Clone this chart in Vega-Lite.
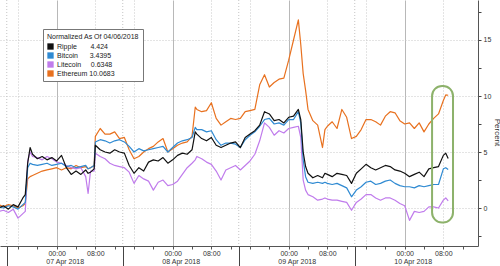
{
"$schema":"https://vega.github.io/schema/vega-lite/v6.json",
"width":478,"height":246,
"autosize":{"type":"none"},
"padding":{"left":0,"top":0,"right":22,"bottom":20},
"background":"white",
"config":{"view":{"stroke":null},"font":"Liberation Sans"},
"layer":[
{
"data":{"values":[{"a":"2018-04-06T13:40Z"},{"a":"2018-04-07T13:40Z"},{"a":"2018-04-08T13:40Z"},{"a":"2018-04-09T13:40Z"}]},
"mark":{"type":"rule","color":"#c4c4c4","strokeWidth":1,"strokeDash":[1,2]},
"encoding":{"x":{"field":"a","type":"temporal","scale":{"type":"utc","domain":[1523016972000,1523373012000]},
"axis":{"orient":"bottom","values":[1523022000000,1523108400000,1523194800000,1523281200000],"labels":false,"tickSize":20,"tickColor":"#444","domain":false,"grid":false,"title":null}}}
},
{
"data":{"values":[
{"t":"2018-04-06T12:00Z","s":"Ethereum","v":0.3},{"t":"2018-04-06T13:00Z","s":"Ethereum","v":0.1},{"t":"2018-04-06T14:00Z","s":"Ethereum","v":0.3},{"t":"2018-04-06T15:00Z","s":"Ethereum","v":0.2},{"t":"2018-04-06T16:00Z","s":"Ethereum","v":0.0},{"t":"2018-04-06T17:00Z","s":"Ethereum","v":0.2},{"t":"2018-04-06T17:30Z","s":"Ethereum","v":0.4},{"t":"2018-04-06T18:00Z","s":"Ethereum","v":2.6},{"t":"2018-04-06T18:30Z","s":"Ethereum","v":2.8},{"t":"2018-04-06T19:00Z","s":"Ethereum","v":2.9},{"t":"2018-04-06T20:00Z","s":"Ethereum","v":3.1},{"t":"2018-04-06T21:00Z","s":"Ethereum","v":3.3},{"t":"2018-04-06T22:00Z","s":"Ethereum","v":3.4},{"t":"2018-04-06T23:00Z","s":"Ethereum","v":3.5},
{"t":"2018-04-07T00:00Z","s":"Ethereum","v":3.6},{"t":"2018-04-07T01:00Z","s":"Ethereum","v":3.4},{"t":"2018-04-07T02:00Z","s":"Ethereum","v":3.6},{"t":"2018-04-07T03:00Z","s":"Ethereum","v":3.5},{"t":"2018-04-07T04:00Z","s":"Ethereum","v":3.8},{"t":"2018-04-07T05:00Z","s":"Ethereum","v":3.6},{"t":"2018-04-07T06:00Z","s":"Ethereum","v":3.7},{"t":"2018-04-07T06:30Z","s":"Ethereum","v":3.5},{"t":"2018-04-07T07:00Z","s":"Ethereum","v":3.6},{"t":"2018-04-07T07:45Z","s":"Ethereum","v":3.8},{"t":"2018-04-07T08:00Z","s":"Ethereum","v":6.4},{"t":"2018-04-07T09:00Z","s":"Ethereum","v":7.1},{"t":"2018-04-07T10:00Z","s":"Ethereum","v":6.6},{"t":"2018-04-07T11:00Z","s":"Ethereum","v":6.6},{"t":"2018-04-07T12:00Z","s":"Ethereum","v":6.8},{"t":"2018-04-07T13:00Z","s":"Ethereum","v":6.2},{"t":"2018-04-07T14:00Z","s":"Ethereum","v":6.3},{"t":"2018-04-07T15:00Z","s":"Ethereum","v":5.2},{"t":"2018-04-07T16:00Z","s":"Ethereum","v":4.4},{"t":"2018-04-07T17:00Z","s":"Ethereum","v":4.6},{"t":"2018-04-07T18:00Z","s":"Ethereum","v":5.0},{"t":"2018-04-07T19:00Z","s":"Ethereum","v":5.3},{"t":"2018-04-07T20:00Z","s":"Ethereum","v":5.5},{"t":"2018-04-07T21:00Z","s":"Ethereum","v":5.9},{"t":"2018-04-07T22:00Z","s":"Ethereum","v":6.2},{"t":"2018-04-07T23:00Z","s":"Ethereum","v":5.0},
{"t":"2018-04-08T00:00Z","s":"Ethereum","v":5.3},{"t":"2018-04-08T01:00Z","s":"Ethereum","v":5.6},{"t":"2018-04-08T02:00Z","s":"Ethereum","v":5.8},{"t":"2018-04-08T03:00Z","s":"Ethereum","v":5.9},{"t":"2018-04-08T04:00Z","s":"Ethereum","v":6.4},{"t":"2018-04-08T04:40Z","s":"Ethereum","v":9.0},{"t":"2018-04-08T05:00Z","s":"Ethereum","v":8.8},{"t":"2018-04-08T06:00Z","s":"Ethereum","v":8.6},{"t":"2018-04-08T07:00Z","s":"Ethereum","v":8.7},{"t":"2018-04-08T08:00Z","s":"Ethereum","v":9.4},{"t":"2018-04-08T09:00Z","s":"Ethereum","v":8.0},{"t":"2018-04-08T10:00Z","s":"Ethereum","v":7.4},{"t":"2018-04-08T11:00Z","s":"Ethereum","v":7.7},{"t":"2018-04-08T12:00Z","s":"Ethereum","v":8.0},{"t":"2018-04-08T13:00Z","s":"Ethereum","v":7.9},{"t":"2018-04-08T14:00Z","s":"Ethereum","v":8.0},{"t":"2018-04-08T15:00Z","s":"Ethereum","v":8.6},{"t":"2018-04-08T16:00Z","s":"Ethereum","v":8.7},{"t":"2018-04-08T17:00Z","s":"Ethereum","v":8.8},{"t":"2018-04-08T18:00Z","s":"Ethereum","v":11.0},{"t":"2018-04-08T19:00Z","s":"Ethereum","v":11.9},{"t":"2018-04-08T20:00Z","s":"Ethereum","v":10.8},{"t":"2018-04-08T21:00Z","s":"Ethereum","v":11.2},{"t":"2018-04-08T22:00Z","s":"Ethereum","v":11.5},{"t":"2018-04-08T23:00Z","s":"Ethereum","v":11.6},
{"t":"2018-04-09T00:00Z","s":"Ethereum","v":13.2},{"t":"2018-04-09T01:00Z","s":"Ethereum","v":15.0},{"t":"2018-04-09T02:00Z","s":"Ethereum","v":16.8},{"t":"2018-04-09T02:30Z","s":"Ethereum","v":14.6},{"t":"2018-04-09T03:00Z","s":"Ethereum","v":12.0},{"t":"2018-04-09T03:30Z","s":"Ethereum","v":10.5},{"t":"2018-04-09T04:00Z","s":"Ethereum","v":8.8},{"t":"2018-04-09T05:00Z","s":"Ethereum","v":7.8},{"t":"2018-04-09T06:00Z","s":"Ethereum","v":7.4},{"t":"2018-04-09T07:00Z","s":"Ethereum","v":5.4},{"t":"2018-04-09T07:30Z","s":"Ethereum","v":7.0},{"t":"2018-04-09T08:00Z","s":"Ethereum","v":7.3},{"t":"2018-04-09T09:00Z","s":"Ethereum","v":7.7},{"t":"2018-04-09T10:00Z","s":"Ethereum","v":7.1},{"t":"2018-04-09T11:00Z","s":"Ethereum","v":8.8},{"t":"2018-04-09T12:00Z","s":"Ethereum","v":8.1},{"t":"2018-04-09T13:00Z","s":"Ethereum","v":6.2},{"t":"2018-04-09T14:00Z","s":"Ethereum","v":6.4},{"t":"2018-04-09T15:00Z","s":"Ethereum","v":7.0},{"t":"2018-04-09T16:00Z","s":"Ethereum","v":7.9},{"t":"2018-04-09T17:00Z","s":"Ethereum","v":7.9},{"t":"2018-04-09T18:00Z","s":"Ethereum","v":7.7},{"t":"2018-04-09T19:00Z","s":"Ethereum","v":7.4},{"t":"2018-04-09T20:00Z","s":"Ethereum","v":8.2},{"t":"2018-04-09T21:00Z","s":"Ethereum","v":8.6},{"t":"2018-04-09T22:00Z","s":"Ethereum","v":8.5},{"t":"2018-04-09T23:00Z","s":"Ethereum","v":7.8},
{"t":"2018-04-10T00:00Z","s":"Ethereum","v":7.5},{"t":"2018-04-10T01:00Z","s":"Ethereum","v":7.6},{"t":"2018-04-10T02:00Z","s":"Ethereum","v":7.1},{"t":"2018-04-10T03:00Z","s":"Ethereum","v":7.6},{"t":"2018-04-10T04:00Z","s":"Ethereum","v":6.8},{"t":"2018-04-10T05:00Z","s":"Ethereum","v":7.5},{"t":"2018-04-10T06:00Z","s":"Ethereum","v":8.0},{"t":"2018-04-10T07:00Z","s":"Ethereum","v":8.4},{"t":"2018-04-10T08:00Z","s":"Ethereum","v":9.6},{"t":"2018-04-10T08:30Z","s":"Ethereum","v":10.1},{"t":"2018-04-10T09:00Z","s":"Ethereum","v":10.0683},

{"t":"2018-04-06T12:00Z","s":"Litecoin","v":-0.3},{"t":"2018-04-06T13:00Z","s":"Litecoin","v":-0.2},{"t":"2018-04-06T14:00Z","s":"Litecoin","v":-0.4},{"t":"2018-04-06T15:00Z","s":"Litecoin","v":-0.1},{"t":"2018-04-06T16:00Z","s":"Litecoin","v":-0.9},{"t":"2018-04-06T17:00Z","s":"Litecoin","v":-0.5},{"t":"2018-04-06T17:30Z","s":"Litecoin","v":-0.3},{"t":"2018-04-06T18:00Z","s":"Litecoin","v":4.2},{"t":"2018-04-06T18:30Z","s":"Litecoin","v":5.0},{"t":"2018-04-06T19:00Z","s":"Litecoin","v":4.6},{"t":"2018-04-06T20:00Z","s":"Litecoin","v":4.5},{"t":"2018-04-06T21:00Z","s":"Litecoin","v":4.3},{"t":"2018-04-06T22:00Z","s":"Litecoin","v":4.6},{"t":"2018-04-06T23:00Z","s":"Litecoin","v":4.4},
{"t":"2018-04-07T00:00Z","s":"Litecoin","v":4.1},{"t":"2018-04-07T01:00Z","s":"Litecoin","v":4.0},{"t":"2018-04-07T02:00Z","s":"Litecoin","v":3.8},{"t":"2018-04-07T03:00Z","s":"Litecoin","v":3.6},{"t":"2018-04-07T04:00Z","s":"Litecoin","v":3.5},{"t":"2018-04-07T05:00Z","s":"Litecoin","v":3.6},{"t":"2018-04-07T06:00Z","s":"Litecoin","v":2.8},{"t":"2018-04-07T06:30Z","s":"Litecoin","v":1.3},{"t":"2018-04-07T07:00Z","s":"Litecoin","v":3.3},{"t":"2018-04-07T07:45Z","s":"Litecoin","v":3.3},{"t":"2018-04-07T08:00Z","s":"Litecoin","v":4.9},{"t":"2018-04-07T09:00Z","s":"Litecoin","v":4.6},{"t":"2018-04-07T10:00Z","s":"Litecoin","v":4.4},{"t":"2018-04-07T11:00Z","s":"Litecoin","v":4.0},{"t":"2018-04-07T12:00Z","s":"Litecoin","v":3.8},{"t":"2018-04-07T13:00Z","s":"Litecoin","v":3.7},{"t":"2018-04-07T14:00Z","s":"Litecoin","v":3.6},{"t":"2018-04-07T15:00Z","s":"Litecoin","v":3.2},{"t":"2018-04-07T16:00Z","s":"Litecoin","v":2.2},{"t":"2018-04-07T17:00Z","s":"Litecoin","v":2.9},{"t":"2018-04-07T18:00Z","s":"Litecoin","v":2.6},{"t":"2018-04-07T19:00Z","s":"Litecoin","v":2.4},{"t":"2018-04-07T20:00Z","s":"Litecoin","v":1.6},{"t":"2018-04-07T21:00Z","s":"Litecoin","v":2.3},{"t":"2018-04-07T22:00Z","s":"Litecoin","v":2.5},{"t":"2018-04-07T23:00Z","s":"Litecoin","v":2.0},
{"t":"2018-04-08T00:00Z","s":"Litecoin","v":2.1},{"t":"2018-04-08T01:00Z","s":"Litecoin","v":2.4},{"t":"2018-04-08T02:00Z","s":"Litecoin","v":3.0},{"t":"2018-04-08T03:00Z","s":"Litecoin","v":3.6},{"t":"2018-04-08T04:00Z","s":"Litecoin","v":4.0},{"t":"2018-04-08T04:40Z","s":"Litecoin","v":4.3},{"t":"2018-04-08T05:00Z","s":"Litecoin","v":4.6},{"t":"2018-04-08T06:00Z","s":"Litecoin","v":4.4},{"t":"2018-04-08T07:00Z","s":"Litecoin","v":4.1},{"t":"2018-04-08T08:00Z","s":"Litecoin","v":3.9},{"t":"2018-04-08T09:00Z","s":"Litecoin","v":3.3},{"t":"2018-04-08T10:00Z","s":"Litecoin","v":2.5},{"t":"2018-04-08T11:00Z","s":"Litecoin","v":3.4},{"t":"2018-04-08T12:00Z","s":"Litecoin","v":3.6},{"t":"2018-04-08T13:00Z","s":"Litecoin","v":3.8},{"t":"2018-04-08T14:00Z","s":"Litecoin","v":3.4},{"t":"2018-04-08T15:00Z","s":"Litecoin","v":3.8},{"t":"2018-04-08T16:00Z","s":"Litecoin","v":4.2},{"t":"2018-04-08T17:00Z","s":"Litecoin","v":4.8},{"t":"2018-04-08T18:00Z","s":"Litecoin","v":6.0},{"t":"2018-04-08T19:00Z","s":"Litecoin","v":7.6},{"t":"2018-04-08T20:00Z","s":"Litecoin","v":7.2},{"t":"2018-04-08T21:00Z","s":"Litecoin","v":6.5},{"t":"2018-04-08T22:00Z","s":"Litecoin","v":6.9},{"t":"2018-04-08T23:00Z","s":"Litecoin","v":6.7},
{"t":"2018-04-09T00:00Z","s":"Litecoin","v":7.1},{"t":"2018-04-09T01:00Z","s":"Litecoin","v":7.2},{"t":"2018-04-09T02:00Z","s":"Litecoin","v":7.3},{"t":"2018-04-09T02:30Z","s":"Litecoin","v":6.3},{"t":"2018-04-09T03:00Z","s":"Litecoin","v":2.5},{"t":"2018-04-09T03:30Z","s":"Litecoin","v":1.6},{"t":"2018-04-09T04:00Z","s":"Litecoin","v":1.2},{"t":"2018-04-09T05:00Z","s":"Litecoin","v":1.0},{"t":"2018-04-09T06:00Z","s":"Litecoin","v":0.7},{"t":"2018-04-09T07:00Z","s":"Litecoin","v":0.8},{"t":"2018-04-09T07:30Z","s":"Litecoin","v":0.9},{"t":"2018-04-09T08:00Z","s":"Litecoin","v":0.8},{"t":"2018-04-09T09:00Z","s":"Litecoin","v":0.7},{"t":"2018-04-09T10:00Z","s":"Litecoin","v":0.7},{"t":"2018-04-09T11:00Z","s":"Litecoin","v":0.6},{"t":"2018-04-09T12:00Z","s":"Litecoin","v":0.5},{"t":"2018-04-09T13:00Z","s":"Litecoin","v":-0.2},{"t":"2018-04-09T14:00Z","s":"Litecoin","v":0.5},{"t":"2018-04-09T15:00Z","s":"Litecoin","v":0.8},{"t":"2018-04-09T16:00Z","s":"Litecoin","v":1.2},{"t":"2018-04-09T17:00Z","s":"Litecoin","v":1.2},{"t":"2018-04-09T18:00Z","s":"Litecoin","v":0.9},{"t":"2018-04-09T19:00Z","s":"Litecoin","v":0.7},{"t":"2018-04-09T20:00Z","s":"Litecoin","v":0.9},{"t":"2018-04-09T21:00Z","s":"Litecoin","v":0.9},{"t":"2018-04-09T22:00Z","s":"Litecoin","v":0.7},{"t":"2018-04-09T23:00Z","s":"Litecoin","v":0.4},
{"t":"2018-04-10T00:00Z","s":"Litecoin","v":0.2},{"t":"2018-04-10T01:00Z","s":"Litecoin","v":-1.1},{"t":"2018-04-10T02:00Z","s":"Litecoin","v":-0.3},{"t":"2018-04-10T03:00Z","s":"Litecoin","v":-0.4},{"t":"2018-04-10T04:00Z","s":"Litecoin","v":-0.3},{"t":"2018-04-10T05:00Z","s":"Litecoin","v":0.1},{"t":"2018-04-10T06:00Z","s":"Litecoin","v":0.1},{"t":"2018-04-10T07:00Z","s":"Litecoin","v":0.0},{"t":"2018-04-10T08:00Z","s":"Litecoin","v":0.7},{"t":"2018-04-10T08:30Z","s":"Litecoin","v":0.9},{"t":"2018-04-10T09:00Z","s":"Litecoin","v":0.6348},

{"t":"2018-04-06T12:00Z","s":"Bitcoin","v":0.1},{"t":"2018-04-06T13:00Z","s":"Bitcoin","v":0.0},{"t":"2018-04-06T14:00Z","s":"Bitcoin","v":0.2},{"t":"2018-04-06T15:00Z","s":"Bitcoin","v":0.1},{"t":"2018-04-06T16:00Z","s":"Bitcoin","v":-0.1},{"t":"2018-04-06T17:00Z","s":"Bitcoin","v":0.3},{"t":"2018-04-06T17:30Z","s":"Bitcoin","v":0.5},{"t":"2018-04-06T18:00Z","s":"Bitcoin","v":3.6},{"t":"2018-04-06T18:30Z","s":"Bitcoin","v":4.0},{"t":"2018-04-06T19:00Z","s":"Bitcoin","v":3.9},{"t":"2018-04-06T20:00Z","s":"Bitcoin","v":3.8},{"t":"2018-04-06T21:00Z","s":"Bitcoin","v":3.9},{"t":"2018-04-06T22:00Z","s":"Bitcoin","v":4.0},{"t":"2018-04-06T23:00Z","s":"Bitcoin","v":3.8},
{"t":"2018-04-07T00:00Z","s":"Bitcoin","v":3.9},{"t":"2018-04-07T01:00Z","s":"Bitcoin","v":4.0},{"t":"2018-04-07T02:00Z","s":"Bitcoin","v":3.7},{"t":"2018-04-07T03:00Z","s":"Bitcoin","v":3.8},{"t":"2018-04-07T04:00Z","s":"Bitcoin","v":3.6},{"t":"2018-04-07T05:00Z","s":"Bitcoin","v":3.7},{"t":"2018-04-07T06:00Z","s":"Bitcoin","v":3.8},{"t":"2018-04-07T06:30Z","s":"Bitcoin","v":3.5},{"t":"2018-04-07T07:00Z","s":"Bitcoin","v":3.6},{"t":"2018-04-07T07:45Z","s":"Bitcoin","v":3.8},{"t":"2018-04-07T08:00Z","s":"Bitcoin","v":5.9},{"t":"2018-04-07T09:00Z","s":"Bitcoin","v":6.1},{"t":"2018-04-07T10:00Z","s":"Bitcoin","v":6.0},{"t":"2018-04-07T11:00Z","s":"Bitcoin","v":5.8},{"t":"2018-04-07T12:00Z","s":"Bitcoin","v":6.0},{"t":"2018-04-07T13:00Z","s":"Bitcoin","v":6.1},{"t":"2018-04-07T14:00Z","s":"Bitcoin","v":5.9},{"t":"2018-04-07T15:00Z","s":"Bitcoin","v":5.5},{"t":"2018-04-07T16:00Z","s":"Bitcoin","v":5.0},{"t":"2018-04-07T17:00Z","s":"Bitcoin","v":5.3},{"t":"2018-04-07T18:00Z","s":"Bitcoin","v":5.1},{"t":"2018-04-07T19:00Z","s":"Bitcoin","v":5.2},{"t":"2018-04-07T20:00Z","s":"Bitcoin","v":5.3},{"t":"2018-04-07T21:00Z","s":"Bitcoin","v":5.4},{"t":"2018-04-07T22:00Z","s":"Bitcoin","v":5.5},{"t":"2018-04-07T23:00Z","s":"Bitcoin","v":5.0},
{"t":"2018-04-08T00:00Z","s":"Bitcoin","v":5.4},{"t":"2018-04-08T01:00Z","s":"Bitcoin","v":5.8},{"t":"2018-04-08T02:00Z","s":"Bitcoin","v":6.0},{"t":"2018-04-08T03:00Z","s":"Bitcoin","v":6.1},{"t":"2018-04-08T04:00Z","s":"Bitcoin","v":6.3},{"t":"2018-04-08T04:40Z","s":"Bitcoin","v":7.2},{"t":"2018-04-08T05:00Z","s":"Bitcoin","v":7.0},{"t":"2018-04-08T06:00Z","s":"Bitcoin","v":7.0},{"t":"2018-04-08T07:00Z","s":"Bitcoin","v":6.8},{"t":"2018-04-08T08:00Z","s":"Bitcoin","v":6.9},{"t":"2018-04-08T09:00Z","s":"Bitcoin","v":6.1},{"t":"2018-04-08T10:00Z","s":"Bitcoin","v":5.6},{"t":"2018-04-08T11:00Z","s":"Bitcoin","v":5.8},{"t":"2018-04-08T12:00Z","s":"Bitcoin","v":5.8},{"t":"2018-04-08T13:00Z","s":"Bitcoin","v":5.7},{"t":"2018-04-08T14:00Z","s":"Bitcoin","v":5.4},{"t":"2018-04-08T15:00Z","s":"Bitcoin","v":6.1},{"t":"2018-04-08T16:00Z","s":"Bitcoin","v":6.5},{"t":"2018-04-08T17:00Z","s":"Bitcoin","v":6.8},{"t":"2018-04-08T18:00Z","s":"Bitcoin","v":7.3},{"t":"2018-04-08T19:00Z","s":"Bitcoin","v":7.9},{"t":"2018-04-08T20:00Z","s":"Bitcoin","v":8.0},{"t":"2018-04-08T21:00Z","s":"Bitcoin","v":7.5},{"t":"2018-04-08T22:00Z","s":"Bitcoin","v":7.6},{"t":"2018-04-08T23:00Z","s":"Bitcoin","v":7.4},
{"t":"2018-04-09T00:00Z","s":"Bitcoin","v":7.9},{"t":"2018-04-09T01:00Z","s":"Bitcoin","v":7.9},{"t":"2018-04-09T02:00Z","s":"Bitcoin","v":8.6},{"t":"2018-04-09T02:30Z","s":"Bitcoin","v":7.6},{"t":"2018-04-09T03:00Z","s":"Bitcoin","v":4.3},{"t":"2018-04-09T03:30Z","s":"Bitcoin","v":2.8},{"t":"2018-04-09T04:00Z","s":"Bitcoin","v":2.3},{"t":"2018-04-09T05:00Z","s":"Bitcoin","v":2.2},{"t":"2018-04-09T06:00Z","s":"Bitcoin","v":2.3},{"t":"2018-04-09T07:00Z","s":"Bitcoin","v":2.2},{"t":"2018-04-09T07:30Z","s":"Bitcoin","v":2.3},{"t":"2018-04-09T08:00Z","s":"Bitcoin","v":2.2},{"t":"2018-04-09T09:00Z","s":"Bitcoin","v":2.1},{"t":"2018-04-09T10:00Z","s":"Bitcoin","v":2.2},{"t":"2018-04-09T11:00Z","s":"Bitcoin","v":2.0},{"t":"2018-04-09T12:00Z","s":"Bitcoin","v":1.8},{"t":"2018-04-09T13:00Z","s":"Bitcoin","v":1.0},{"t":"2018-04-09T14:00Z","s":"Bitcoin","v":1.6},{"t":"2018-04-09T15:00Z","s":"Bitcoin","v":1.9},{"t":"2018-04-09T16:00Z","s":"Bitcoin","v":2.3},{"t":"2018-04-09T17:00Z","s":"Bitcoin","v":2.4},{"t":"2018-04-09T18:00Z","s":"Bitcoin","v":2.1},{"t":"2018-04-09T19:00Z","s":"Bitcoin","v":2.2},{"t":"2018-04-09T20:00Z","s":"Bitcoin","v":2.4},{"t":"2018-04-09T21:00Z","s":"Bitcoin","v":2.5},{"t":"2018-04-09T22:00Z","s":"Bitcoin","v":2.2},{"t":"2018-04-09T23:00Z","s":"Bitcoin","v":2.0},
{"t":"2018-04-10T00:00Z","s":"Bitcoin","v":1.9},{"t":"2018-04-10T01:00Z","s":"Bitcoin","v":1.9},{"t":"2018-04-10T02:00Z","s":"Bitcoin","v":1.8},{"t":"2018-04-10T03:00Z","s":"Bitcoin","v":2.0},{"t":"2018-04-10T04:00Z","s":"Bitcoin","v":1.9},{"t":"2018-04-10T05:00Z","s":"Bitcoin","v":2.0},{"t":"2018-04-10T06:00Z","s":"Bitcoin","v":2.1},{"t":"2018-04-10T07:00Z","s":"Bitcoin","v":2.1},{"t":"2018-04-10T08:00Z","s":"Bitcoin","v":3.5},{"t":"2018-04-10T08:30Z","s":"Bitcoin","v":3.6},{"t":"2018-04-10T09:00Z","s":"Bitcoin","v":3.4395},

{"t":"2018-04-06T12:00Z","s":"Ripple","v":0.0},{"t":"2018-04-06T13:00Z","s":"Ripple","v":0.2},{"t":"2018-04-06T14:00Z","s":"Ripple","v":-0.1},{"t":"2018-04-06T15:00Z","s":"Ripple","v":0.3},{"t":"2018-04-06T16:00Z","s":"Ripple","v":0.1},{"t":"2018-04-06T17:00Z","s":"Ripple","v":0.9},{"t":"2018-04-06T17:30Z","s":"Ripple","v":1.2},{"t":"2018-04-06T18:00Z","s":"Ripple","v":4.0},{"t":"2018-04-06T18:30Z","s":"Ripple","v":5.4},{"t":"2018-04-06T19:00Z","s":"Ripple","v":4.8},{"t":"2018-04-06T20:00Z","s":"Ripple","v":4.4},{"t":"2018-04-06T21:00Z","s":"Ripple","v":4.6},{"t":"2018-04-06T22:00Z","s":"Ripple","v":4.3},{"t":"2018-04-06T23:00Z","s":"Ripple","v":4.5},
{"t":"2018-04-07T00:00Z","s":"Ripple","v":4.2},{"t":"2018-04-07T01:00Z","s":"Ripple","v":4.7},{"t":"2018-04-07T02:00Z","s":"Ripple","v":3.6},{"t":"2018-04-07T03:00Z","s":"Ripple","v":3.0},{"t":"2018-04-07T04:00Z","s":"Ripple","v":3.3},{"t":"2018-04-07T05:00Z","s":"Ripple","v":3.0},{"t":"2018-04-07T06:00Z","s":"Ripple","v":3.4},{"t":"2018-04-07T06:30Z","s":"Ripple","v":3.1},{"t":"2018-04-07T07:00Z","s":"Ripple","v":3.2},{"t":"2018-04-07T07:45Z","s":"Ripple","v":3.5},{"t":"2018-04-07T08:00Z","s":"Ripple","v":5.6},{"t":"2018-04-07T09:00Z","s":"Ripple","v":5.2},{"t":"2018-04-07T10:00Z","s":"Ripple","v":5.0},{"t":"2018-04-07T11:00Z","s":"Ripple","v":4.9},{"t":"2018-04-07T12:00Z","s":"Ripple","v":5.2},{"t":"2018-04-07T13:00Z","s":"Ripple","v":5.0},{"t":"2018-04-07T14:00Z","s":"Ripple","v":4.9},{"t":"2018-04-07T15:00Z","s":"Ripple","v":3.8},{"t":"2018-04-07T16:00Z","s":"Ripple","v":3.1},{"t":"2018-04-07T17:00Z","s":"Ripple","v":3.6},{"t":"2018-04-07T18:00Z","s":"Ripple","v":3.3},{"t":"2018-04-07T19:00Z","s":"Ripple","v":4.1},{"t":"2018-04-07T20:00Z","s":"Ripple","v":4.3},{"t":"2018-04-07T21:00Z","s":"Ripple","v":4.2},{"t":"2018-04-07T22:00Z","s":"Ripple","v":4.5},{"t":"2018-04-07T23:00Z","s":"Ripple","v":4.0},
{"t":"2018-04-08T00:00Z","s":"Ripple","v":4.3},{"t":"2018-04-08T01:00Z","s":"Ripple","v":4.7},{"t":"2018-04-08T02:00Z","s":"Ripple","v":4.9},{"t":"2018-04-08T03:00Z","s":"Ripple","v":4.8},{"t":"2018-04-08T04:00Z","s":"Ripple","v":5.2},{"t":"2018-04-08T04:40Z","s":"Ripple","v":6.8},{"t":"2018-04-08T05:00Z","s":"Ripple","v":6.6},{"t":"2018-04-08T06:00Z","s":"Ripple","v":6.2},{"t":"2018-04-08T07:00Z","s":"Ripple","v":6.0},{"t":"2018-04-08T08:00Z","s":"Ripple","v":6.3},{"t":"2018-04-08T09:00Z","s":"Ripple","v":5.6},{"t":"2018-04-08T10:00Z","s":"Ripple","v":5.4},{"t":"2018-04-08T11:00Z","s":"Ripple","v":5.6},{"t":"2018-04-08T12:00Z","s":"Ripple","v":5.8},{"t":"2018-04-08T13:00Z","s":"Ripple","v":5.9},{"t":"2018-04-08T14:00Z","s":"Ripple","v":5.4},{"t":"2018-04-08T15:00Z","s":"Ripple","v":6.3},{"t":"2018-04-08T16:00Z","s":"Ripple","v":6.6},{"t":"2018-04-08T17:00Z","s":"Ripple","v":6.9},{"t":"2018-04-08T18:00Z","s":"Ripple","v":7.4},{"t":"2018-04-08T19:00Z","s":"Ripple","v":8.6},{"t":"2018-04-08T20:00Z","s":"Ripple","v":8.4},{"t":"2018-04-08T21:00Z","s":"Ripple","v":7.8},{"t":"2018-04-08T22:00Z","s":"Ripple","v":7.9},{"t":"2018-04-08T23:00Z","s":"Ripple","v":7.6},
{"t":"2018-04-09T00:00Z","s":"Ripple","v":8.1},{"t":"2018-04-09T01:00Z","s":"Ripple","v":8.2},{"t":"2018-04-09T02:00Z","s":"Ripple","v":8.8},{"t":"2018-04-09T02:30Z","s":"Ripple","v":7.9},{"t":"2018-04-09T03:00Z","s":"Ripple","v":5.0},{"t":"2018-04-09T03:30Z","s":"Ripple","v":3.7},{"t":"2018-04-09T04:00Z","s":"Ripple","v":3.1},{"t":"2018-04-09T05:00Z","s":"Ripple","v":2.7},{"t":"2018-04-09T06:00Z","s":"Ripple","v":2.9},{"t":"2018-04-09T07:00Z","s":"Ripple","v":2.7},{"t":"2018-04-09T07:30Z","s":"Ripple","v":3.1},{"t":"2018-04-09T08:00Z","s":"Ripple","v":3.0},{"t":"2018-04-09T09:00Z","s":"Ripple","v":2.8},{"t":"2018-04-09T10:00Z","s":"Ripple","v":3.1},{"t":"2018-04-09T11:00Z","s":"Ripple","v":3.0},{"t":"2018-04-09T12:00Z","s":"Ripple","v":2.9},{"t":"2018-04-09T13:00Z","s":"Ripple","v":2.2},{"t":"2018-04-09T14:00Z","s":"Ripple","v":3.1},{"t":"2018-04-09T15:00Z","s":"Ripple","v":3.5},{"t":"2018-04-09T16:00Z","s":"Ripple","v":3.9},{"t":"2018-04-09T17:00Z","s":"Ripple","v":3.6},{"t":"2018-04-09T18:00Z","s":"Ripple","v":3.4},{"t":"2018-04-09T19:00Z","s":"Ripple","v":3.6},{"t":"2018-04-09T20:00Z","s":"Ripple","v":3.8},{"t":"2018-04-09T21:00Z","s":"Ripple","v":3.7},{"t":"2018-04-09T22:00Z","s":"Ripple","v":3.4},{"t":"2018-04-09T23:00Z","s":"Ripple","v":3.3},
{"t":"2018-04-10T00:00Z","s":"Ripple","v":3.1},{"t":"2018-04-10T01:00Z","s":"Ripple","v":2.8},{"t":"2018-04-10T02:00Z","s":"Ripple","v":3.0},{"t":"2018-04-10T03:00Z","s":"Ripple","v":3.2},{"t":"2018-04-10T04:00Z","s":"Ripple","v":2.8},{"t":"2018-04-10T05:00Z","s":"Ripple","v":3.5},{"t":"2018-04-10T06:00Z","s":"Ripple","v":3.6},{"t":"2018-04-10T07:00Z","s":"Ripple","v":3.7},{"t":"2018-04-10T08:00Z","s":"Ripple","v":4.7},{"t":"2018-04-10T08:30Z","s":"Ripple","v":4.9},{"t":"2018-04-10T09:00Z","s":"Ripple","v":4.424}
]},
"mark":{"type":"line","strokeWidth":1.2,"strokeJoin":"round"},
"encoding":{
"x":{"field":"t","type":"temporal","scale":{"type":"utc","domain":[1523016972000,1523373012000]},
"axis":{"orient":"bottom","title":null,"values":[1523030400000,1523044800000,1523059200000,1523073600000,1523088000000,1523102400000,1523116800000,1523131200000,1523145600000,1523160000000,1523174400000,1523188800000,1523203200000,1523217600000,1523232000000,1523246400000,1523260800000,1523275200000,1523289600000,1523304000000,1523318400000,1523332800000,1523347200000,1523361600000],
"labelExpr":"(utchours(datum.value) == 0 || utchours(datum.value) == 8) ? utcFormat(datum.value, '%H:%M') : ''",
"labelFontSize":7,"labelColor":"#333","labelPadding":0,"labelFlush":false,"labelOverlap":false,
"tickSize":3,"tickColor":"#555","domainColor":"#555","grid":true,
"gridColor":{"condition":{"test":"utchours(datum.value) == 0","value":"#b8b8b8"},"value":"#c8c8c8"},
"gridDash":{"condition":{"test":"utchours(datum.value) == 0","value":[]},"value":[1,2]},
"gridOpacity":{"condition":{"test":"utchours(datum.value) % 8 == 0","value":1},"value":0}}},
"y":{"field":"v","type":"quantitative","scale":{"domain":[-3.39,18.57],"nice":false,"zero":false},
"axis":{"orient":"right","values":[-2.5,0,2.5,5,7.5,10,12.5,15,17.5],"labelExpr":"datum.value % 5 == 0 ? format(datum.value, 'd') : ''","tickSize":3,"tickColor":"#444","domainColor":"#555","labelFontSize":7,"labelColor":"#333","labelPadding":2,"grid":true,"gridColor":"#c8c8c8","gridDash":[1,2],"gridOpacity":{"condition":{"test":"datum.value % 5 == 0","value":1},"value":0},"title":"Percent","titleFontSize":8,"titleFontWeight":"normal","titleColor":"#333","titleAngle":90,"titleX":18,"titleY":132,"titleAlign":"center","titleBaseline":"middle"}},
"color":{"field":"s","type":"nominal","scale":{"domain":["Ripple","Bitcoin","Litecoin","Ethereum"],"range":["#111111","#2f8ad2","#c07cec","#e8711f"]},
"legend":{"orient":"none","legendX":43,"legendY":29,"title":"Normalized As Of 04/06/2018","titleFontSize":7,"titleFontWeight":"normal","titleColor":"#222","titlePadding":3,"labelFontSize":7,"labelColor":"#222","symbolType":"square","symbolSize":40,"symbolStrokeWidth":0,"padding":4,"strokeColor":"#777","fillColor":"white","rowPadding":1,"labelOffset":3,
"labelExpr":"datum.label == 'Ripple' ? 'Ripple\u00a0\u00a0\u00a0\u00a0\u00a0\u00a0\u00a04.424' : datum.label == 'Bitcoin' ? 'Bitcoin\u00a0\u00a0\u00a0\u00a0\u00a0\u00a03.4395' : datum.label == 'Litecoin' ? 'Litecoin\u00a0\u00a0\u00a0\u00a0\u00a00.6348' : 'Ethereum\u00a010.0683'",
"encode":{"symbols":{"update":{"fill":{"scale":"color","field":"value"},"stroke":{"value":"transparent"},"opacity":{"value":1}}}}}}
}
},
{
"data":{"values":[{"x1":"2018-04-10T05:40Z","x2":"2018-04-10T10:00Z","y1":-1.3,"y2":10.9}]},
"mark":{"type":"rect","filled":false,"stroke":"#8db26b","strokeWidth":2,"cornerRadius":10},
"encoding":{
"x":{"field":"x1","type":"temporal","scale":{"type":"utc","domain":[1523016972000,1523373012000]},
"axis":{"orient":"bottom","title":null,"values":[1523065200000,1523151600000,1523238000000,1523324400000],"labelExpr":"utcFormat(datum.value, '%d %b %Y')","ticks":false,"domain":false,"grid":false,"labelPadding":11,"labelFontSize":7,"labelColor":"#333","labelFlush":false,"labelOverlap":false}},
"x2":{"field":"x2"},
"y":{"field":"y1","type":"quantitative","scale":{"domain":[-3.39,18.57],"nice":false,"zero":false},
"axis":{"orient":"right","values":[-2.5,0,2.5,5,7.5,10,12.5,15,17.5],"labelExpr":"datum.value % 5 == 0 ? format(datum.value, 'd') : ''","tickSize":3,"tickColor":"#444","domainColor":"#555","labelFontSize":7,"labelColor":"#333","labelPadding":2,"grid":true,"gridColor":"#c8c8c8","gridDash":[1,2],"gridOpacity":{"condition":{"test":"datum.value % 5 == 0","value":1},"value":0},"title":"Percent","titleFontSize":8,"titleFontWeight":"normal","titleColor":"#333","titleAngle":90,"titleX":18,"titleY":132,"titleAlign":"center","titleBaseline":"middle"}},
"y2":{"field":"y2"}}
}
],
"resolve":{"axis":{"x":"independent"}}
}
